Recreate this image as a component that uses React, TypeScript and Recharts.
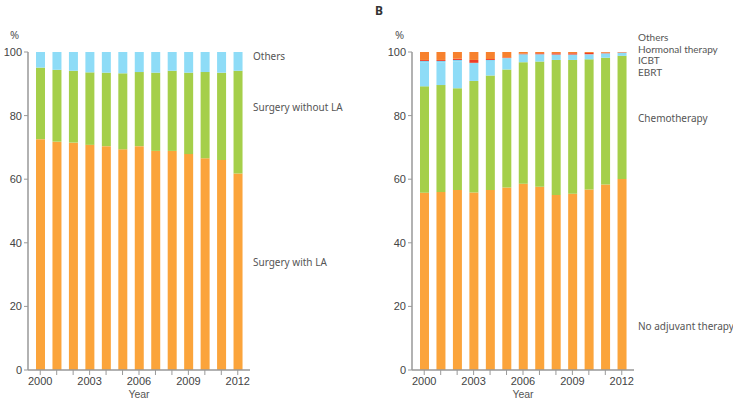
import React from "react";
import { BarChart, Bar, XAxis, YAxis } from "recharts";

const years = [2000, 2001, 2002, 2003, 2004, 2005, 2006, 2007, 2008, 2009, 2010, 2011, 2012];

// panel A
const surgeryWithLA = [72.6, 71.8, 71.5, 70.8, 70.4, 69.4, 70.4, 68.9, 68.9, 67.9, 66.6, 66.0, 61.8];
const surgeryWithoutLA = [22.5, 22.6, 22.6, 22.8, 23.1, 23.9, 23.3, 24.6, 25.2, 25.6, 27.1, 27.5, 32.3];
const othersA = [4.9, 5.6, 5.9, 6.4, 6.5, 6.7, 6.3, 6.5, 5.9, 6.5, 6.3, 6.5, 5.9];

// panel B
const noAdjuvant = [55.7, 56.0, 56.6, 55.8, 56.6, 57.4, 58.6, 57.6, 55.0, 55.4, 56.8, 58.3, 60.1];
const chemotherapy = [33.5, 33.6, 32.0, 35.1, 36.0, 37.1, 38.2, 39.4, 42.5, 42.1, 40.9, 39.9, 38.7];
const ebrt = [7.6, 7.2, 8.4, 5.4, 4.6, 3.4, 2.3, 2.1, 1.6, 1.6, 1.5, 1.3, 0.9];
const icbt = [0.4, 0.4, 0.5, 0.3, 0.3, 0.2, 0.2, 0.2, 0.1, 0.1, 0.1, 0.1, 0.1];
const hormonal = [0.3, 0.3, 0.4, 0.9, 0.3, 0.2, 0.2, 0.3, 0.4, 0.4, 0.4, 0.2, 0.1];
const othersB = [2.5, 2.5, 2.1, 2.5, 2.2, 1.7, 0.5, 0.4, 0.4, 0.4, 0.3, 0.2, 0.1];

const yTicks = [0, 20, 40, 60, 80, 100];

const ORANGE = "#fba43b";
const GREEN = "#a5cf4a";
const BLUE = "#8edcf7";
const BLUE2 = "#7fd2f0";
const RED = "#ee3e26";
const ORANGE_RED = "#f7812d";

const dataA = years.map((year, i) => ({
  year,
  withLA: surgeryWithLA[i],
  withoutLA: surgeryWithoutLA[i],
  others: othersA[i],
}));

const dataB = years.map((year, i) => ({
  year,
  noAdj: noAdjuvant[i],
  chemo: chemotherapy[i],
  ebrt: ebrt[i],
  icbt: icbt[i],
  hormonal: hormonal[i],
  others: othersB[i],
}));

const tickFont = { fontSize: 11, fill: "#444", fontFamily: "Liberation Sans, Arial, sans-serif" };
const labelFont: React.CSSProperties = {
  position: "absolute",
  fontSize: 10,
  color: "#555",
  fontFamily: "Noto Sans, sans-serif",
  whiteSpace: "nowrap",
  lineHeight: "11px",
};
// tight stack of small labels next to the top of panel B
const stackLabel: React.CSSProperties = {
  ...labelFont,
  fontFamily: "Lato, sans-serif",
  fontSize: 10,
  lineHeight: "11px",
};
const axisTitle: React.CSSProperties = {
  position: "absolute",
  width: 40,
  textAlign: "center",
  fontSize: 10.5,
  lineHeight: "10px",
  color: "#555",
  fontFamily: "Liberation Sans, Arial, sans-serif",
};

const yearTick = (v: number) => ((v - 2000) % 3 === 0 ? String(v) : "");

const Panel = ({ data, children }: { data: any[]; children: React.ReactNode }) => (
  <BarChart
    width={260}
    height={400}
    data={data}
    margin={{ top: 52, right: 10, bottom: 0, left: 0 }}
    barCategoryGap={0}
  >
    <XAxis
      dataKey="year"
      interval={0}
      tickFormatter={yearTick}
      tick={tickFont}
      tickSize={5}
      height={30}
      padding={{ left: 4, right: 4 }}
      axisLine={{ stroke: "#999", strokeWidth: 1.5 }}
      tickLine={{ stroke: "#999" }}
    />
    <YAxis
      domain={[0, 100]}
      ticks={yTicks}
      width={28}
      tick={tickFont}
      tickSize={4}
      interval={0}
      axisLine={{ stroke: "#999", strokeWidth: 1.5 }}
      tickLine={{ stroke: "#999" }}
    />
    {children}
  </BarChart>
);

const App = () => (
  <div style={{ position: "absolute", left: 0, top: 0, width: 733, height: 400, background: "#fff" }}>
    <div style={{ position: "absolute", left: 0, top: 0 }}>
      <Panel data={dataA}>
        <Bar dataKey="withLA" stackId="a" fill={ORANGE} barSize={9} isAnimationActive={false} />
        <Bar dataKey="withoutLA" stackId="a" fill={GREEN} barSize={9} isAnimationActive={false} />
        <Bar dataKey="others" stackId="a" fill={BLUE} barSize={9} isAnimationActive={false} />
      </Panel>
    </div>
    <div style={{ position: "absolute", left: 384, top: 0 }}>
      <Panel data={dataB}>
        <Bar dataKey="noAdj" stackId="a" fill={ORANGE} barSize={9} isAnimationActive={false} />
        <Bar dataKey="chemo" stackId="a" fill={GREEN} barSize={9} isAnimationActive={false} />
        <Bar dataKey="ebrt" stackId="a" fill={BLUE} barSize={9} isAnimationActive={false} />
        <Bar dataKey="icbt" stackId="a" fill={BLUE2} barSize={9} isAnimationActive={false} />
        <Bar dataKey="hormonal" stackId="a" fill={RED} barSize={9} isAnimationActive={false} />
        <Bar dataKey="others" stackId="a" fill={ORANGE_RED} barSize={9} isAnimationActive={false} />
      </Panel>
    </div>

    <div style={{ ...axisTitle, left: 119, top: 389 }}>Year</div>
    <div style={{ ...axisTitle, left: 503, top: 389 }}>Year</div>

    <div style={{ ...labelFont, left: 10, top: 29, fontSize: 11, color: "#555" }}>%</div>
    <div style={{ ...labelFont, left: 395, top: 29, fontSize: 11, color: "#555" }}>%</div>
    <div style={{ ...labelFont, left: 375, top: 5, fontSize: 12, fontWeight: 700, color: "#333" }}>B</div>

    <div style={{ ...labelFont, left: 253, top: 51 }}>Others</div>
    <div style={{ ...labelFont, left: 253, top: 102 }}>Surgery without LA</div>
    <div style={{ ...labelFont, left: 253, top: 257 }}>Surgery with LA</div>

    <div style={{ ...stackLabel, left: 638, top: 32 }}>Others</div>
    <div style={{ ...stackLabel, left: 638, top: 43.5 }}>Hormonal therapy</div>
    <div style={{ ...stackLabel, left: 638, top: 55 }}>ICBT</div>
    <div style={{ ...stackLabel, left: 638, top: 66.5 }}>EBRT</div>
    <div style={{ ...labelFont, left: 638, top: 113 }}>Chemotherapy</div>
    <div style={{ ...labelFont, left: 638, top: 321 }}>No adjuvant therapy</div>
  </div>
);

export default App;
